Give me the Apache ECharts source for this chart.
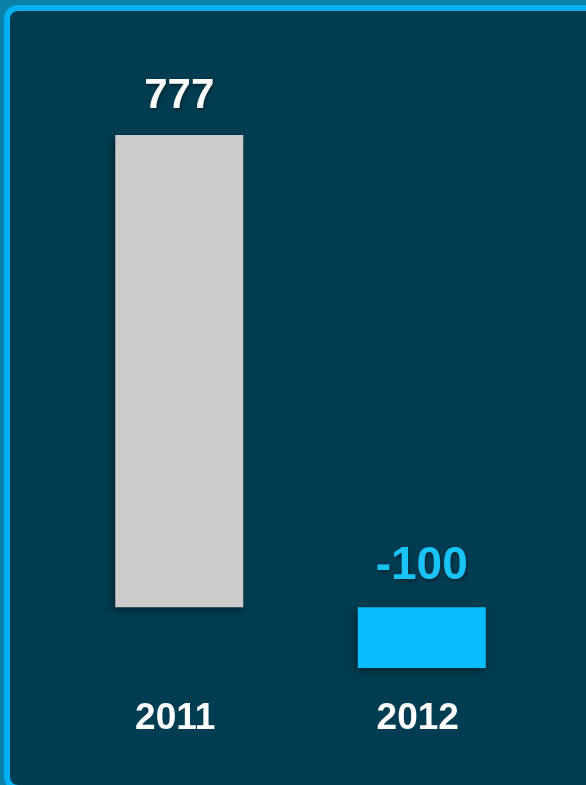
<!DOCTYPE html>
<html>
<head>
<meta charset="utf-8">
<script src="https://cdn.jsdelivr.net/npm/echarts@6/dist/echarts.min.js"></script>
<style>
  html, body { margin: 0; padding: 0; width: 586px; height: 785px; overflow: hidden; background: #0b80a9; }
  .frame {
    position: absolute; left: 4px; top: 5px; width: 640px; height: 786px;
    box-sizing: border-box; border: 6px solid #00b0f0; border-radius: 14px;
    background: #003d52;
  }
  #chart { position: absolute; left: 0; top: 0; width: 586px; height: 785px; }
</style>
</head>
<body>
<div class="frame"></div>
<div id="chart"></div>
<script>
const years = ['2011', '2012']
const values = [777, -100]
const barColors = ['#cccccc', '#08beff']
const labelColors = ['#ffffff', '#19c3f5']
const labelSizes = [42, 46]

const chart = echarts.init(document.getElementById('chart'))

chart.setOption({
  backgroundColor: 'transparent',
  animation: false,
  grid: { left: 58, width: 485, top: 135, height: 533 },
  xAxis: {
    type: 'category',
    data: years,
    axisLine: { show: false },
    axisTick: { show: false },
    axisLabel: {
      color: '#ffffff',
      fontFamily: 'Liberation Sans, Arial, sans-serif',
      fontWeight: 'bold',
      fontSize: 37,
      margin: 32,
      padding: [0, 8, 0, 0],
    },
  },
  yAxis: {
    type: 'value',
    min: -100,
    max: 777,
    show: false,
    splitLine: { show: false },
  },
  series: [{
    type: 'bar',
    barWidth: 128,
    data: values.map((v, i) => ({
      value: v,
      itemStyle: {
        color: barColors[i],
        shadowColor: 'rgba(0,0,0,0.45)',
        shadowBlur: 8,
        shadowOffsetX: -2,
        shadowOffsetY: 3,
      },
      label: {
        show: true,
        position: 'top',
        distance: 18,
        color: labelColors[i],
        fontFamily: 'Liberation Sans, Arial, sans-serif',
        fontWeight: 'bold',
        fontSize: labelSizes[i],
        textShadowColor: 'rgba(0,0,0,0.4)',
        textShadowBlur: 4,
        textShadowOffsetX: 1,
        textShadowOffsetY: 2,
      },
    })),
  }],
})
</script>
</body>
</html>
